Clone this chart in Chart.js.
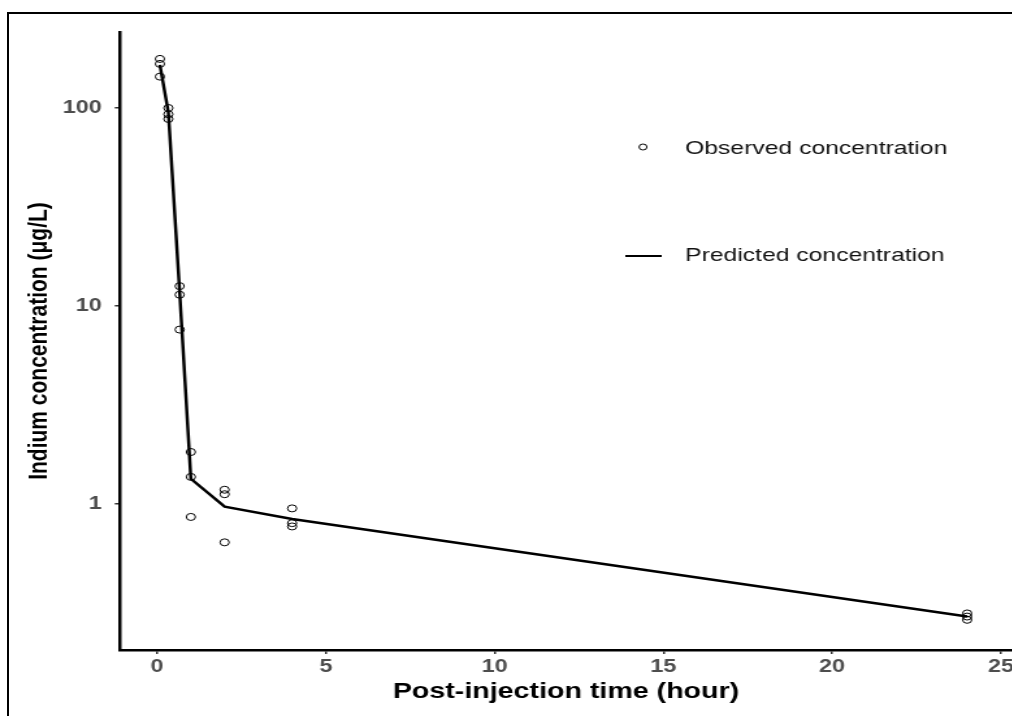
<!DOCTYPE html>
<html>
<head>
<meta charset="utf-8">
<script src="https://cdn.jsdelivr.net/npm/chart.js@4.4.1/dist/chart.umd.min.js"></script>
<style>
  html, body { margin: 0; padding: 0; background: #fff; overflow: hidden; width: 1012px; height: 716px; }
  /* outer frame of the figure (right/bottom edges are cut off in the original) */
  #frame { position: absolute; left: 7px; top: 12px; width: 1100px; height: 800px; border-top: 2px solid #000; border-left: 2px solid #000; }
  /* the original figure is stretched sideways, so the chart is too */
  #wrap { position: absolute; left: 0; top: 0; width: 800px; height: 716px; transform: scaleX(1.3); transform-origin: 0 0; }
</style>
</head>
<body>
<div id="frame"></div>
<div id="wrap"><canvas id="myChart" width="800" height="716"></canvas></div>
<script>
    // data (hours, ug/L)
    let obsTime = [0.083, 0.083, 0.083, 0.333, 0.333, 0.333, 0.667, 0.667, 0.667,
                   1, 1, 1, 2, 2, 2, 4, 4, 4, 24, 24, 24];
    let obsConc = [177, 167, 144, 100, 93, 88, 12.6, 11.4, 7.6,
                   1.83, 1.37, 0.86, 1.18, 1.12, 0.64, 0.95, 0.80, 0.77, 0.28, 0.27, 0.26];
    let predTime = [0.083, 0.333, 0.667, 1, 2, 4, 24];
    let predConc = [165, 95, 11.8, 1.34, 0.97, 0.84, 0.27];
    let xTicks = [0, 5, 10, 15, 20, 25];
    let yTicks = [1, 10, 100];

    Chart.defaults.font.family = '"Liberation Sans", Arial, sans-serif';

    // legend drawn inside the plot, like the original
    let legendPlugin = {
        id: 'insideLegend',
        afterDraw(chart) {
            let c = chart.ctx;
            let ds = chart.data.datasets;
            c.save();
            c.font = '19px "Liberation Sans", Arial, sans-serif';
            c.fillStyle = '#111';
            c.strokeStyle = '#000';
            c.textBaseline = 'middle';
            // open circle = observed
            c.beginPath();
            c.arc(494.6, 147, 3, 0, Math.PI * 2);
            c.lineWidth = 1;
            c.stroke();
            c.fillText(ds[0].label, 527, 149);
            // line = predicted
            c.beginPath();
            c.moveTo(481, 256);
            c.lineTo(509, 256);
            c.lineWidth = 2;
            c.stroke();
            c.fillText(ds[1].label, 527, 256);
            c.restore();
        }
    };

    let ctx = document.getElementById("myChart");

    let config = {
        type: "scatter",
        data: {
            datasets: [
                {
                    label: 'Observed concentration',
                    data: obsTime.map((t, i) => ({ x: t, y: obsConc[i] })),
                    pointStyle: 'circle',
                    pointRadius: 3.5,
                    borderColor: '#000',
                    borderWidth: 1,
                    backgroundColor: 'rgba(0,0,0,0)',
                    showLine: false,
                },
                {
                    type: "line",
                    label: 'Predicted concentration',
                    data: predTime.map((t, i) => ({ x: t, y: predConc[i] })),
                    borderColor: '#000',
                    borderWidth: 2.5,
                    pointRadius: 0,
                    tension: 0,
                    fill: false,
                }
            ]
        },
        options: {
            responsive: false,
            animation: false,
            layout: { padding: { top: 32, left: 0, right: 21.5, bottom: 0 } },
            plugins: {
                legend: { display: false },
                tooltip: { enabled: false },
            },
            scales: {
                x: {
                    type: 'linear',
                    min: -1.1,
                    max: 25.33,
                    afterBuildTicks: (a) => { a.ticks = xTicks.map(v => ({ value: v })); },
                    afterFit: (s) => { s.height = 66; },
                    ticks: { font: { size: 18, weight: 'bold' }, color: '#4d4d4d', padding: 2, callback: (v) => String(v) },
                    grid: { drawOnChartArea: false, tickLength: 4, color: '#333', lineWidth: 1.5 },
                    border: { color: '#000', width: 2.5 },
                    title: {
                        display: true,
                        text: 'Post-injection time (hour)',
                        font: { size: 22, weight: 'bold' },
                        color: '#000',
                        padding: { top: 0, bottom: 11 },
                    },
                },
                y: {
                    type: 'logarithmic',
                    min: 0.183,
                    max: 242,
                    afterBuildTicks: (a) => { a.ticks = yTicks.map(v => ({ value: v })); },
                    afterFit: (s) => { s.width = 92.3; },
                    ticks: { font: { size: 18, weight: 'bold' }, color: '#4d4d4d', padding: 10, callback: (v) => String(v) },
                    grid: { drawOnChartArea: false, tickLength: 4, color: '#333', lineWidth: 1.5 },
                    border: { color: '#000', width: 2.5 },
                    title: {
                        display: true,
                        text: 'Indium concentration (μg/L)',
                        font: { size: 21, weight: 'bold' },
                        color: '#000',
                        padding: { top: 18, bottom: 0 },
                    },
                },
            },
        },
        plugins: [legendPlugin],
    };

    let myChart = new Chart(ctx, config);
</script>
</body>
</html>
